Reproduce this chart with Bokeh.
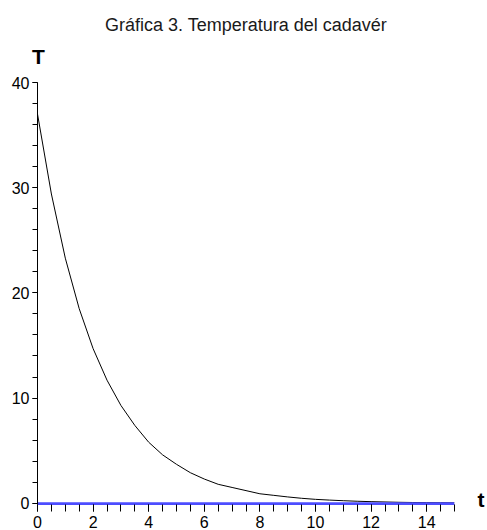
from bokeh.plotting import figure
from bokeh.models import Range1d, SingleIntervalTicker, FixedTicker, LinearAxis, Title
from bokeh.embed import file_html
from bokeh.resources import INLINE

# Data
t_vals = [0, 0.5, 1, 1.5, 2, 2.5, 3, 3.5, 4, 4.5, 5, 5.5, 6, 6.5, 7, 7.5,
          8, 8.5, 9, 9.5, 10, 10.5, 11, 11.5, 12, 12.5, 13, 13.5, 14, 14.5, 15]
T_vals = [37.0, 29.4, 23.3, 18.5, 14.7, 11.7, 9.3, 7.4, 5.8, 4.6, 3.7, 2.9,
          2.3, 1.8, 1.5, 1.2, 0.9, 0.75, 0.6, 0.47, 0.37, 0.3, 0.24, 0.19,
          0.15, 0.12, 0.09, 0.07, 0.06, 0.05, 0.04]
ambient_t = [0, 15]
ambient_T = [0, 0]

title_text = "Gráfica 3. Temperatura del cadavér"
y_label = "T"
x_label = "t"
y_label_at = 0.03   # t position of the "T" label (over the vertical axis)
x_label_at = 0.4    # T position of the "t" label (right of the horizontal axis)

FONT = "Liberation Sans"

p = figure(width=487, height=530, output_backend="svg", toolbar_location=None,
           x_range=Range1d(0, 15), y_range=Range1d(-0.12, 40),
           min_border_left=37, min_border_right=33, min_border_top=82,
           min_border_bottom=20)
p.title.visible = False
p.outline_line_color = None
p.grid.visible = False
p.background_fill_color = "white"
p.border_fill_color = "white"

p.line(t_vals, T_vals, line_color="black", line_width=1)
p.line(ambient_t, ambient_T, line_color="#4d4dff", line_width=2)

xa = p.xaxis[0]
xa.ticker = SingleIntervalTicker(interval=2, num_minor_ticks=4)
ya = p.yaxis[0]
ya.ticker = SingleIntervalTicker(interval=10, num_minor_ticks=5)

for ax in (xa, ya):
    ax.axis_line_color = "black"
    ax.axis_line_width = 1
    ax.major_tick_in = 0
    ax.minor_tick_in = 0
    ax.major_tick_line_color = "black"
    ax.minor_tick_line_color = "black"
    ax.major_label_text_font = FONT
    ax.major_label_text_font_size = "16px"
    ax.major_label_text_color = "black"

xa.axis_line_color = "#4d4dff"
xa.major_tick_out = 7
xa.minor_tick_out = 7
xa.major_label_standoff = 4
ya.major_tick_out = 5
ya.minor_tick_out = 5
ya.major_label_standoff = 3


def name_axis(pos, text, standoff):
    return LinearAxis(ticker=FixedTicker(ticks=[pos]), axis_line_color=None,
                      major_tick_line_color=None, minor_tick_line_color=None,
                      major_tick_out=0, major_tick_in=0,
                      minor_tick_out=0, minor_tick_in=0,
                      major_label_overrides={pos: text},
                      major_label_text_font=FONT,
                      major_label_text_font_size="21px",
                      major_label_text_font_style="bold",
                      major_label_text_color="black",
                      major_label_standoff=standoff)

# "T" above the vertical axis, "t" to the right of the horizontal axis
p.add_layout(name_axis(y_label_at, y_label, 15), "above")
p.add_layout(name_axis(x_label_at, x_label, 23), "right")

p.add_layout(Title(text=title_text, align="center", offset=4, text_font=FONT,
                   text_font_size="18px", text_font_style="normal",
                   text_color="#1a1a1a", standoff=14), "above")

open("out.html", "w").write(file_html(p, INLINE))
